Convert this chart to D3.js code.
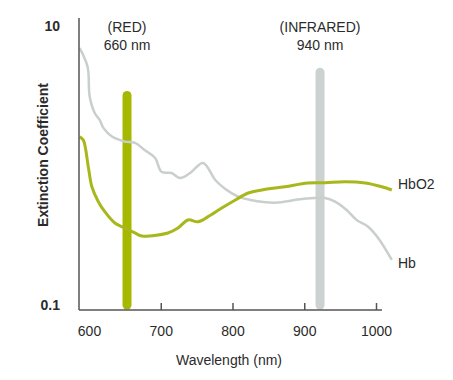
<!DOCTYPE html>
<html><head><meta charset="utf-8">
<script src="https://cdn.jsdelivr.net/npm/d3@7"></script>
<style>body{margin:0;background:#fff}text{font-family:"Liberation Sans",Arial,sans-serif;fill:#2b2b2b}</style>
</head><body>
<svg id="c" width="453" height="380"></svg>
<script>
const hbWave = [587,598,601,608,615,620,632,650,664,678,692,701,715,727,741,759,776,790,808,825,859,897,929,943,959,973,989,1003,1022];
const hbVal  = [7.0,5.14,3.13,2.39,2.13,1.87,1.62,1.49,1.46,1.29,1.14,0.906,0.887,0.817,0.887,1.047,0.79,0.681,0.60,0.568,0.543,0.577,0.587,0.552,0.481,0.408,0.365,0.303,0.211];
const hbo2Wave = [587,592,599,604,613,622,636,650,664,674,710,724,738,752,766,785,804,822,841,873,905,929,957,985,1008,1022];
const hbo2Val  = [1.61,1.53,0.984,0.707,0.552,0.468,0.388,0.357,0.329,0.313,0.329,0.357,0.408,0.396,0.431,0.497,0.568,0.637,0.670,0.707,0.752,0.756,0.768,0.752,0.707,0.670];
const markerNames = ["(RED)","(INFRARED)"];
const markerLabels = ["660 nm","940 nm"];
const markerPos = [653,922];
const markerTop = [3.2,4.7];
const markerBottom = [0.1,0.1];
const xTicks = [600,700,800,900,1000];
const yTicks = [0.1,10];
const seriesNames = ["HbO2","Hb"];

const svg = d3.select("#c");
const x = d3.scaleLinear().domain([600,1000]).range([89,376]);
const y = d3.scaleLog().domain([0.1,10]).range([305,26.5]);
const axisY0 = 310, axisX0 = 79;

// markers
const mcol = ["#a6b800","#ccd2d1"];
svg.selectAll("line.mk").data(markerPos).enter().append("line")
  .attr("x1",d=>x(d)).attr("x2",d=>x(d))
  .attr("y1",(d,i)=>y(markerTop[i])).attr("y2",(d,i)=>y(markerBottom[i]))
  .attr("stroke",(d,i)=>mcol[i]).attr("stroke-width",9).attr("stroke-linecap","round");

const line = d3.line().x(d=>x(d[0])).y(d=>y(d[1]));
svg.append("path").datum(hbWave.map((w,i)=>[w,hbVal[i]]))
  .attr("d",line.curve(d3.curveCatmullRom)).attr("fill","none").attr("stroke","#c9cfcd").attr("stroke-width",2.5);
svg.append("path").datum(hbo2Wave.map((w,i)=>[w,hbo2Val[i]]))
  .attr("d",line.curve(d3.curveCatmullRom)).attr("fill","none").attr("stroke","#a7b71c").attr("stroke-width",3);

// axes
const gx = svg.append("g").attr("transform",`translate(0,${axisY0})`)
  .call(d3.axisBottom(x).tickValues(xTicks).tickFormat(d3.format("d")).tickSize(-7).tickPadding(16));
gx.select(".domain").remove();
gx.selectAll(".tick line").attr("stroke","#555").attr("stroke-width",1.5).filter(d=>d===600).remove();
gx.selectAll(".tick text").attr("font-size",14).style("fill","#2b2b2b");
svg.append("line").attr("x1",axisX0).attr("x2",382).attr("y1",axisY0).attr("y2",axisY0).attr("stroke","#555").attr("stroke-width",1.5);
svg.append("line").attr("x1",axisX0).attr("x2",axisX0).attr("y1",18).attr("y2",axisY0).attr("stroke","#555").attr("stroke-width",1.5);

const gy = svg.append("g").attr("transform",`translate(${axisX0},0)`)
  .call(d3.axisLeft(y).tickValues(yTicks).tickFormat(d=>d===10?"10":"0.1").tickSize(0).tickPadding(19));
gy.select(".domain").remove();
gy.selectAll(".tick text").attr("font-size",14).attr("font-weight","bold").style("fill","#2b2b2b");

// titles
svg.append("text").attr("x",229).attr("y",365).attr("text-anchor","middle").attr("font-size",14).text("Wavelength (nm)");
svg.append("text").attr("transform","translate(48,155) rotate(-90)").attr("text-anchor","middle").attr("font-size",14).attr("font-weight","bold").text("Extinction Coefficient");

// marker labels
markerPos.forEach((p,i)=>{
  svg.append("text").attr("x",x(p)).attr("y",32).attr("text-anchor","middle").attr("font-size",14).text(markerNames[i]);
  svg.append("text").attr("x",x(p)).attr("y",50).attr("text-anchor","middle").attr("font-size",14).text(markerLabels[i]);
});

// series labels
const lastVals = [hbo2Val[hbo2Val.length-1], hbVal[hbVal.length-1]];
svg.selectAll("text.sl").data(seriesNames).enter().append("text")
  .attr("x",398).attr("y",(d,i)=>y(lastVals[i])+ (i===0?-1:8)).attr("font-size",14).text(d=>d);
</script>
</body></html>
